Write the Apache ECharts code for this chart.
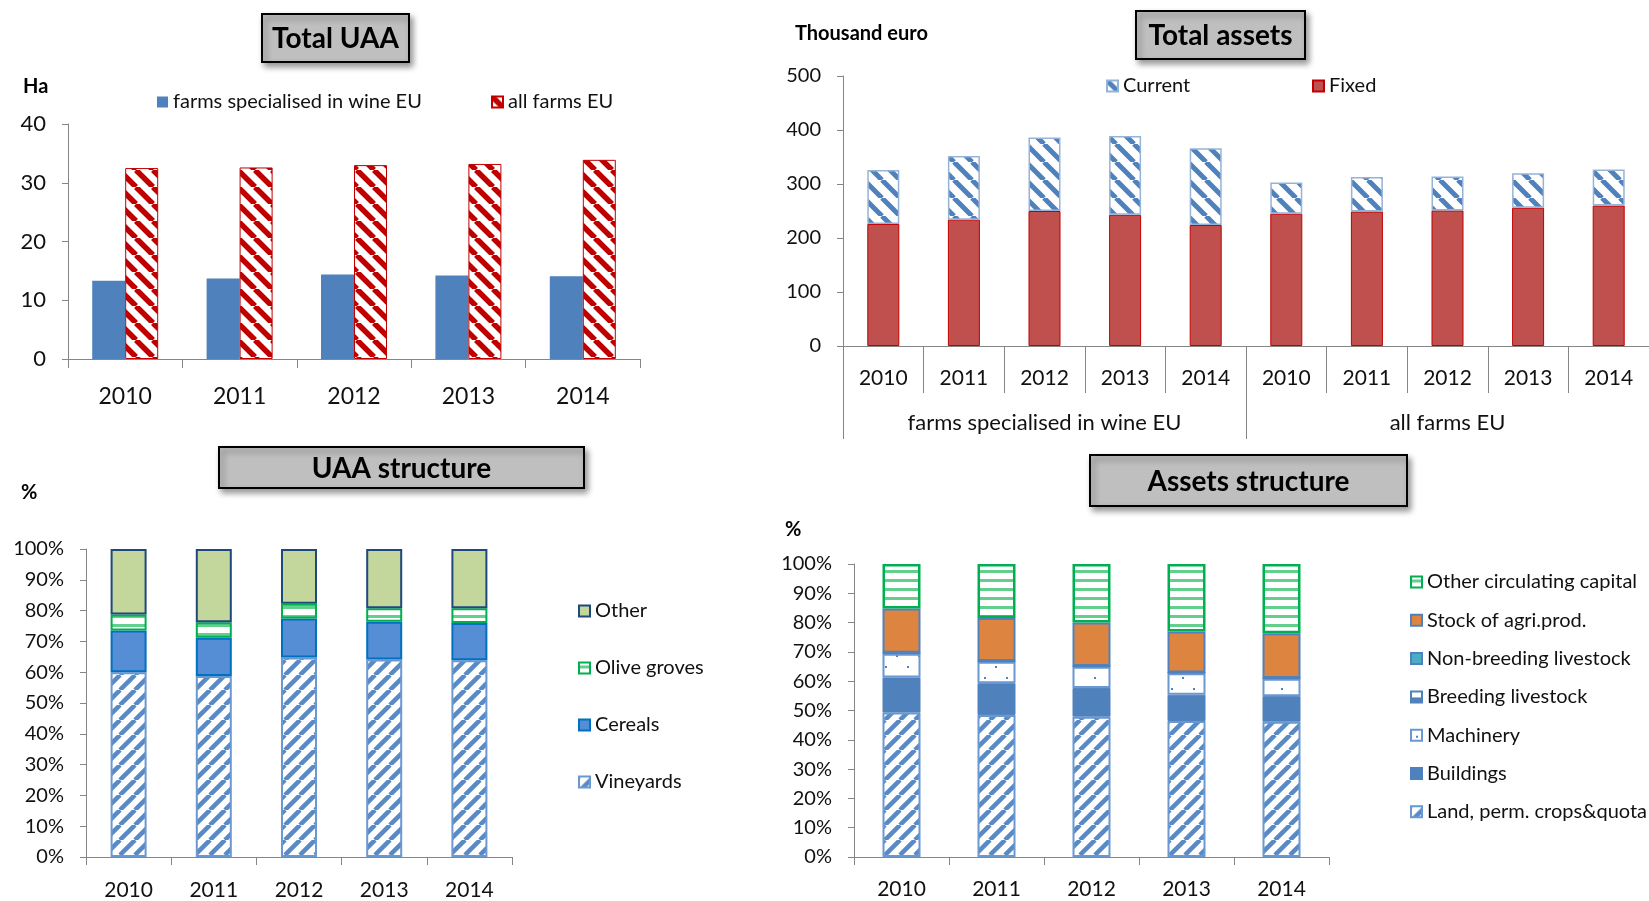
<!DOCTYPE html>
<html>
<head>
<meta charset="utf-8">
<script src="https://cdn.jsdelivr.net/npm/echarts@6/dist/echarts.min.js"></script>
<style>
  html, body { margin: 0; padding: 0; background: #fff; }
  #chart { width: 1649px; height: 901px; }
</style>
</head>
<body>
<div id="chart"></div>
<script>
// ---- data ----
const years = ['2010', '2011', '2012', '2013', '2014'];

// Total UAA (ha)
const uaaWine = [13.3, 13.7, 14.4, 14.2, 14.1];
const uaaAllFarms = [32.5, 32.6, 33.0, 33.2, 33.9];

// Total assets (thousand euro)
const assetGroups = ['farms specialised in wine EU', 'all farms EU'];
const assetYears = years.concat(years);
const assetsFixed = [226, 234, 250, 243, 224, 245, 249, 251, 256, 260];
const assetsCurrent = [100, 118, 136, 146, 142, 58, 64, 63, 64, 67];

// UAA structure (% of UAA)
const uaaVineyards = [60.0, 58.8, 64.8, 64.1, 63.9];
const uaaCereals = [13.5, 12.4, 12.6, 12.3, 12.1];
const uaaOlive = [5.2, 5.0, 4.8, 4.4, 4.8];
const uaaOther = [21.3, 23.8, 17.8, 19.2, 19.2];

// Assets structure (% of total assets)
const asLand = [49.3, 48.5, 47.9, 46.4, 46.2];
const asBuildings = [12.0, 10.8, 9.8, 9.0, 8.7];
const asMachinery = [8.1, 7.3, 7.2, 7.3, 5.9];
const asBreeding = [0.2, 0.2, 0.2, 0.2, 0.2];
const asNonBreeding = [0.1, 0.1, 0.1, 0.1, 0.1];
const asStock = [15.1, 14.7, 14.8, 14.0, 15.3];
const asOtherCirc = [15.2, 18.4, 20.0, 23.0, 23.6];

// ---- fill patterns ----
function tile(w, h, draw) {
  const c = document.createElement('canvas');
  c.width = w; c.height = h;
  const g = c.getContext('2d');
  g.fillStyle = '#ffffff';
  g.fillRect(0, 0, w, h);
  draw(g, w, h);
  return { image: c, repeat: 'repeat' };
}
function diagonal(size, color, lw, dir) {
  return tile(size, size, (g, s) => {
    g.strokeStyle = color;
    g.lineWidth = lw;
    g.beginPath();
    for (const k of [-s, 0, s]) {
      if (dir === 'down') { g.moveTo(k, 0); g.lineTo(k + s, s); }
      else { g.moveTo(k, s); g.lineTo(k + s, 0); }
    }
    g.stroke();
  });
}
const redDown = diagonal(17, '#C00000', 5.5, 'down');
const blueDown = diagonal(18, '#4F81BD', 5, 'down');
const blueUp = diagonal(15, '#5A8AC6', 4.5, 'up');
const greenBands = tile(8, 9, (g) => { g.fillStyle = '#62CF8C'; g.fillRect(0, 3, 8, 3); });
const blueDots = tile(22, 22, (g) => {
  g.fillStyle = '#4F81BD';
  g.fillRect(5, 6, 2, 2);
  g.fillRect(16, 17, 2, 2);
});
const halfBlue = tile(12, 12, (g) => { g.fillStyle = '#4F81BD'; g.fillRect(0, 6, 12, 6); });

// ---- shared styles ----
const FONT = 'Lato, "Noto Sans", sans-serif';
const AXIS = '#868686';
const TXT = '#111';

function valueAxis(gridIndex, max, interval, fontSize, margin, pct) {
  return {
    type: 'value', gridIndex, min: 0, max, interval,
    axisLine: { show: true, lineStyle: { color: AXIS, width: 1 } },
    axisTick: { show: true, length: 6, lineStyle: { color: AXIS } },
    splitLine: { show: false },
    axisLabel: {
      color: TXT, fontFamily: FONT, fontSize, margin,
      formatter: pct ? '{value}%' : '{value}'
    }
  };
}
function catAxis(gridIndex, data, fontSize, margin, tickLen) {
  return {
    type: 'category', gridIndex, data,
    axisLine: { show: true, lineStyle: { color: AXIS, width: 1 } },
    axisTick: { show: true, interval: 0, length: tickLen, lineStyle: { color: AXIS } },
    axisLabel: { color: TXT, fontFamily: FONT, fontSize, margin, interval: 0 }
  };
}
function legendAt(name, left, cy, extra) {
  return Object.assign({
    data: [name], left, top: cy - 10, icon: 'rect', itemWidth: 11, itemHeight: 11,
    textStyle: { color: TXT, fontFamily: FONT, fontSize: 20 },
    selectedMode: false, padding: 0, itemGap: 5
  }, extra || {});
}
function titleBox(x, y, w, h, text) {
  return {
    type: 'group',
    children: [
      {
        type: 'rect', shape: { x, y, width: w, height: h },
        style: {
          fill: '#BFBFBF', stroke: '#000', lineWidth: 2,
          shadowBlur: 6, shadowOffsetX: 3, shadowOffsetY: 4, shadowColor: 'rgba(0,0,0,0.4)'
        }
      },
      {
        type: 'text',
        style: {
          text, x: x + w / 2, y: y + h / 2 + 1, fill: '#000',
          font: 'bold 28px ' + FONT, align: 'center', verticalAlign: 'middle'
        }
      }
    ]
  };
}
function unitText(x, y, text) {
  return {
    type: 'text',
    style: { text, x, y, fill: '#000', font: 'bold 20px ' + FONT, verticalAlign: 'middle' }
  };
}

const chart = echarts.init(document.getElementById('chart'), null, { renderer: 'canvas' });

const option = {
  backgroundColor: '#ffffff',
  animation: false,
  grid: [
    { left: 68, top: 124, width: 572, height: 235 },      // Total UAA
    { left: 843, top: 76, width: 810, height: 270 },      // Total assets
    { left: 86, top: 549, width: 426, height: 314 },      // UAA structure
    { left: 854, top: 564, width: 475, height: 293 },     // Assets structure
    { left: 843, top: 76, width: 810, height: 270 }       // Total assets, group labels
  ],
  xAxis: [
    catAxis(0, years, 23, 26, 9),
    catAxis(1, assetYears, 21, 22, 47),
    catAxis(2, years, 21, 23, 8),
    catAxis(3, years, 21, 22, 8),
    Object.assign(catAxis(4, assetGroups, 22, 66, 93), { axisLine: { show: false } })
  ],
  yAxis: [
    valueAxis(0, 40, 10, 22, 22, false),
    valueAxis(1, 500, 100, 20, 22, false),
    valueAxis(2, 100, 10, 20, 22, true),
    valueAxis(3, 100, 10, 20, 22, true),
    { type: 'value', gridIndex: 4, show: false, min: 0, max: 500 }
  ],
  legend: [
    legendAt('farms specialised in wine EU', 157, 102),
    legendAt('all farms EU', 491, 102),
    legendAt('Current', 1106, 86),
    legendAt('Fixed', 1312, 86),
    legendAt(null, 578, 611, {
      data: ['Other', 'Olive groves', 'Cereals', 'Vineyards'],
      orient: 'vertical', itemGap: 37
    }),
    legendAt(null, 1410, 582, {
      data: ['Other circulating capital', 'Stock of agri.prod.', 'Non-breeding livestock',
             'Breeding livestock', 'Machinery', 'Buildings', 'Land, perm. crops&quota'],
      orient: 'vertical', itemGap: 18.3
    })
  ],
  series: [
    // Total UAA
    {
      name: 'farms specialised in wine EU', type: 'bar', xAxisIndex: 0, yAxisIndex: 0,
      data: uaaWine, barWidth: 33, barGap: '0%',
      itemStyle: { color: '#4F81BD' }
    },
    {
      name: 'all farms EU', type: 'bar', xAxisIndex: 0, yAxisIndex: 0,
      data: uaaAllFarms, barWidth: 33, barGap: '0%',
      itemStyle: { color: redDown, borderColor: '#C00000', borderWidth: 1 }
    },
    // Total assets
    {
      name: 'Fixed', type: 'bar', stack: 'assets', xAxisIndex: 1, yAxisIndex: 1,
      data: assetsFixed, barWidth: 32,
      itemStyle: { color: '#C0504D', borderColor: '#C00000', borderWidth: 1 }
    },
    {
      name: 'Current', type: 'bar', stack: 'assets', xAxisIndex: 1, yAxisIndex: 1,
      data: assetsCurrent, barWidth: 32,
      itemStyle: { color: blueDown, borderColor: '#95B3D7', borderWidth: 1.5 }
    },
    // UAA structure
    {
      name: 'Vineyards', type: 'bar', stack: 'uaa', xAxisIndex: 2, yAxisIndex: 2,
      data: uaaVineyards, barWidth: 36,
      itemStyle: { color: blueUp, borderColor: '#6A98D0', borderWidth: 2 }
    },
    {
      name: 'Cereals', type: 'bar', stack: 'uaa', xAxisIndex: 2, yAxisIndex: 2,
      data: uaaCereals, barWidth: 36,
      itemStyle: { color: '#558ED5', borderColor: '#0070C0', borderWidth: 2 }
    },
    {
      name: 'Olive groves', type: 'bar', stack: 'uaa', xAxisIndex: 2, yAxisIndex: 2,
      data: uaaOlive, barWidth: 36,
      itemStyle: { color: greenBands, borderColor: '#00B050', borderWidth: 2 }
    },
    {
      name: 'Other', type: 'bar', stack: 'uaa', xAxisIndex: 2, yAxisIndex: 2,
      data: uaaOther, barWidth: 36,
      itemStyle: { color: '#C3D69B', borderColor: '#1F497D', borderWidth: 2 }
    },
    // Assets structure
    {
      name: 'Land, perm. crops&quota', type: 'bar', stack: 'as', xAxisIndex: 3, yAxisIndex: 3,
      data: asLand, barWidth: 38,
      itemStyle: { color: blueUp, borderColor: '#6A98D0', borderWidth: 2 }
    },
    {
      name: 'Buildings', type: 'bar', stack: 'as', xAxisIndex: 3, yAxisIndex: 3,
      data: asBuildings, barWidth: 38,
      itemStyle: { color: '#4F81BD', borderColor: '#4F81BD', borderWidth: 1 }
    },
    {
      name: 'Machinery', type: 'bar', stack: 'as', xAxisIndex: 3, yAxisIndex: 3,
      data: asMachinery, barWidth: 38,
      itemStyle: { color: blueDots, borderColor: '#6A98D0', borderWidth: 2 }
    },
    {
      name: 'Breeding livestock', type: 'bar', stack: 'as', xAxisIndex: 3, yAxisIndex: 3,
      data: asBreeding, barWidth: 38,
      itemStyle: { color: halfBlue, borderColor: '#4F81BD', borderWidth: 1 }
    },
    {
      name: 'Non-breeding livestock', type: 'bar', stack: 'as', xAxisIndex: 3, yAxisIndex: 3,
      data: asNonBreeding, barWidth: 38,
      itemStyle: { color: '#4BACC6', borderColor: '#4F81BD', borderWidth: 1 }
    },
    {
      name: 'Stock of agri.prod.', type: 'bar', stack: 'as', xAxisIndex: 3, yAxisIndex: 3,
      data: asStock, barWidth: 38,
      itemStyle: { color: '#DD8440', borderColor: '#4F81BD', borderWidth: 2 }
    },
    {
      name: 'Other circulating capital', type: 'bar', stack: 'as', xAxisIndex: 3, yAxisIndex: 3,
      data: asOtherCirc, barWidth: 38,
      itemStyle: { color: greenBands, borderColor: '#00B050', borderWidth: 2.5 }
    }
  ],
  graphic: [
    titleBox(262, 14, 147, 48, 'Total UAA'),
    titleBox(1136, 11, 169, 48, 'Total assets'),
    titleBox(219, 447, 365, 41, 'UAA structure'),
    titleBox(1090, 455, 317, 51, 'Assets structure'),
    unitText(23, 87, 'Ha'),
    unitText(795, 34, 'Thousand euro'),
    unitText(21, 493, '%'),
    unitText(785, 530, '%')
  ]
};

chart.setOption(option);
</script>
</body>
</html>
